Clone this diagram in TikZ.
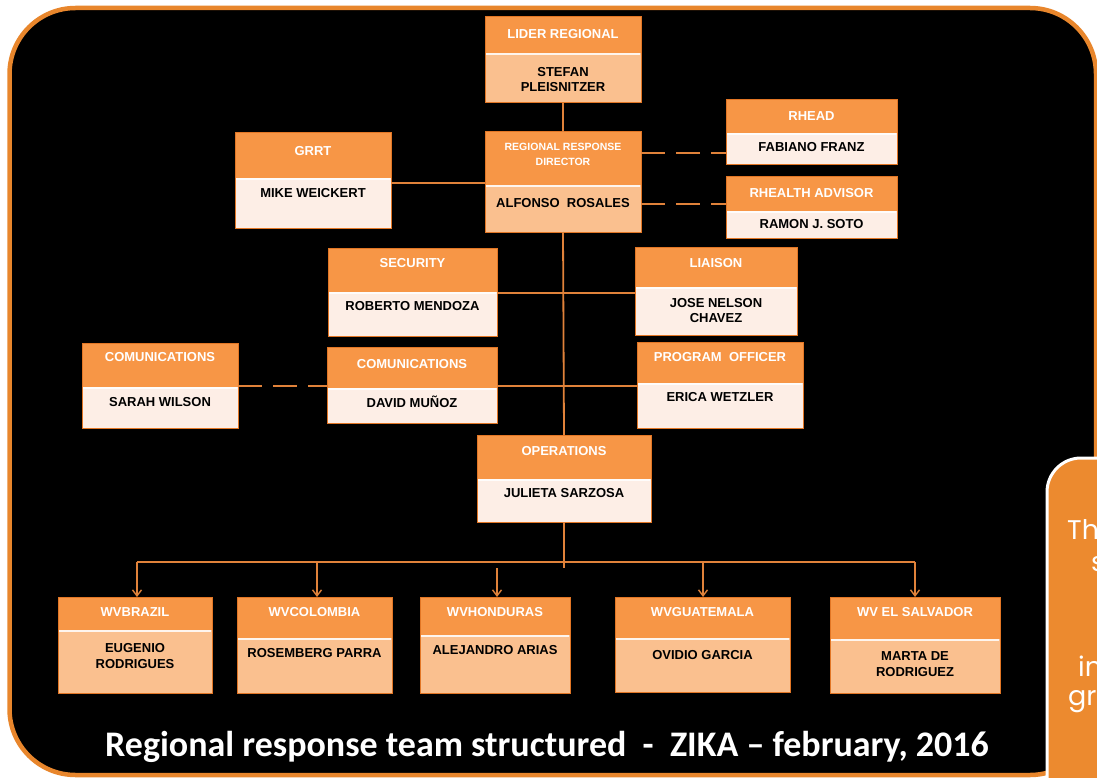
\documentclass[tikz,border=0pt]{standalone}
\usepackage{fontspec}
\setmainfont{Liberation Sans}
\newfontfamily\titlefont{Carlito}
\newfontfamily\sidefont{Poppins}
\usetikzlibrary{arrows.meta}
\definecolor{frameor}{HTML}{E8862C}
\definecolor{heador}{HTML}{F79646}
\definecolor{bodylt}{HTML}{FDEEE6}
\definecolor{bodyor}{HTML}{FAC08F}
\definecolor{edgeor}{HTML}{E27625}
\definecolor{connor}{HTML}{E0823A}
\definecolor{sideor}{HTML}{EC8A2F}
\tikzset{
  orgbox/.style={draw=edgeor, line width=1pt, rectangle, inner sep=0pt, outer sep=0pt, anchor=north west},
  htext/.style={text=white, font=\fontsize{13}{15}\selectfont\bfseries, inner sep=0pt, align=center},
  hsmall/.style={htext, font=\fontsize{10.5}{15}\selectfont\bfseries},
  btext/.style={text=black, font=\fontsize{13}{15.5}\selectfont\bfseries, inner sep=0pt, align=center},
  conn/.style={draw=connor, line width=1.8pt},
  dconn/.style={conn, dash pattern=on 24pt off 11pt},
  arr/.style={conn, -{Straight Barb[length=6pt,width=9pt,line width=1.4pt]}},
  titletext/.style={text=white, font=\titlefont\bfseries\fontsize{36}{40}\selectfont, inner sep=0pt},
  sidetext/.style={text=white, font=\sidefont\fontsize{27}{32}\selectfont, inner sep=0pt},
}
\newcommand{\orgbox}[7]{%
  \node[orgbox, fill=#7, minimum width={#4-#2}, minimum height={#5-#3}] (#1) at (#2,#3) {};
  \fill[heador] (#2,#3) rectangle (#4,#6);
  \draw[white, opacity=0.85, line width=1.4pt] (#2+1,#6+1) -- (#4-1,#6+1);
  \draw[edgeor, line width=1pt] (#1.north west) rectangle (#1.south east);
}
\begin{document}
\begin{tikzpicture}[x=1pt,y=-1pt]
\useasboundingbox (0,0) rectangle (1097,778);
\clip (0,0) rectangle (1097,778);
\fill[white] (0,0) rectangle (1097,778);
% main frame
\draw[frameor, line width=4.5pt, fill=black, rounded corners=66pt] (9.5,8) rectangle (1096,775);

% boxes
\orgbox{lider}{485}{17}{641}{103}{53}{bodyor}
\orgbox{dir}{485}{132}{641}{232}{185}{bodyor}
\orgbox{rhead}{726}{100}{897}{165}{133}{bodylt}
\orgbox{rhealth}{726}{177}{897}{238}{211}{bodylt}
\orgbox{grrt}{235}{133}{391}{228}{178}{bodylt}
\orgbox{sec}{328}{248}{497}{336}{292}{bodylt}
\orgbox{liaison}{635}{247}{797}{335}{287}{bodylt}
\orgbox{comL}{82}{343}{238}{428}{387}{bodylt}
\orgbox{comM}{327}{347}{497}{423}{388}{bodylt}
\orgbox{prog}{637}{342}{803}{428}{383}{bodylt}
\orgbox{ops}{477}{435}{651}{522}{479}{bodylt}
\orgbox{brazil}{58}{597}{212}{693}{630}{bodyor}
\orgbox{colombia}{237}{597}{392}{693}{638}{bodyor}
\orgbox{honduras}{420}{597}{570}{693}{635}{bodyor}
\orgbox{guatemala}{615}{597}{790}{692}{638}{bodyor}
\orgbox{salvador}{830}{597}{1000}{693}{639}{bodyor}

% connectors
\draw[conn] (lider.south) -- (dir.north);
\draw[conn] (dir.south) -- (ops.north);
\coordinate (spineend) at (564,568);
\draw[conn] (ops.south) -- (spineend);
\draw[conn] (grrt.east |- 0,183) -- (dir.west |- 0,183);
\draw[dconn] (dir.east |- 0,153) -- (rhead.west |- 0,153);
\draw[dconn] (dir.east |- 0,204) -- (rhealth.west |- 0,204);
\draw[conn] (sec.east |- 0,293) -- (liaison.west |- 0,293);
\draw[conn] (comM.east |- 0,386) -- (prog.west |- 0,386);
\draw[dconn] (comL.east |- 0,386) -- (comM.west |- 0,386);
\coordinate (busL) at (137,562);
\coordinate (busR) at (915,562);
\draw[conn] (busL) -- (busR);
\draw[arr] (busL) -- (busL |- brazil.north);
\draw[arr] (317,562) -- (317,597);
\coordinate (hondstart) at (497,568);
\draw[arr] (hondstart) -- (hondstart |- honduras.north);
\draw[arr] (703,562) -- (703,597);
\draw[arr] (busR) -- (busR |- salvador.north);

% texts
\node[htext] (lider-h) at (lider.north |- 0,34) {LIDER REGIONAL};
\node[btext] (lider-b) at (lider.north |- 0,79.5) {STEFAN\\PLEISNITZER};
\node[hsmall] (dir-h) at (dir.north |- 0,154.5) {REGIONAL RESPONSE\\DIRECTOR};
\node[btext] (dir-b) at (dir.north |- 0,203) {ALFONSO\ \ ROSALES};
\node[htext] (rhead-h) at (rhead.north |- 0,116) {RHEAD};
\node[btext] (rhead-b) at (rhead.north |- 0,147) {FABIANO FRANZ};
\node[htext] (rhealth-h) at (rhealth.north |- 0,193) {RHEALTH ADVISOR};
\node[btext] (rhealth-b) at (rhealth.north |- 0,224) {RAMON J. SOTO};
\node[htext] (grrt-h) at (grrt.north |- 0,151) {GRRT};
\node[btext] (grrt-b) at (grrt.north |- 0,193) {MIKE WEICKERT};
\node[htext] (sec-h) at (sec.north |- 0,263) {SECURITY};
\node[btext] (sec-b) at (sec.north |- 0,306) {ROBERTO MENDOZA};
\node[htext] (liaison-h) at (liaison.north |- 0,263) {LIAISON};
\node[btext] (liaison-b) at (liaison.north |- 0,310.5) {JOSE NELSON\\CHAVEZ};
\node[htext] (comL-h) at (comL.north |- 0,357) {COMUNICATIONS};
\node[btext] (comL-b) at (comL.north |- 0,402) {SARAH WILSON};
\node[htext] (comM-h) at (comM.north |- 0,364) {COMUNICATIONS};
\node[btext] (comM-b) at (comM.north |- 0,402) {DAVID MUÑOZ};
\node[htext] (prog-h) at (prog.north |- 0,357) {PROGRAM\ \ OFFICER};
\node[btext] (prog-b) at (prog.north |- 0,397) {ERICA WETZLER};
\node[htext] (ops-h) at (ops.north |- 0,451) {OPERATIONS};
\node[btext] (ops-b) at (ops.north |- 0,493) {JULIETA SARZOSA};
\node[htext] (brazil-h) at (brazil.north |- 0,612) {WVBRAZIL};
\node[btext] (brazil-b) at (brazil.north |- 0,656) {EUGENIO\\RODRIGUES};
\node[htext] (colombia-h) at (colombia.north |- 0,612) {WVCOLOMBIA};
\node[btext] (colombia-b) at (colombia.north |- 0,653) {ROSEMBERG PARRA};
\node[htext] (honduras-h) at (honduras.north |- 0,612) {WVHONDURAS};
\node[btext] (honduras-b) at (honduras.north |- 0,650) {ALEJANDRO ARIAS};
\node[htext] (guatemala-h) at (guatemala.north |- 0,612) {WVGUATEMALA};
\node[btext] (guatemala-b) at (guatemala.north |- 0,655) {OVIDIO GARCIA};
\node[htext] (salvador-h) at (salvador.north |- 0,612) {WV EL SALVADOR};
\node[btext] (salvador-b) at (salvador.north |- 0,664) {MARTA DE\\RODRIGUEZ};

% title
\node[titletext, anchor=base] (title) at (547,756) {Regional response team structured\ \ -\ \ ZIKA – february, 2016};

% side panel (its text runs past the picture's right edge, as in the reference)
\draw[white, line width=3pt, fill=sideor, rounded corners=34pt] (1047,458) rectangle (1150,840);
\node[sidetext, anchor=base west] (side1) at (1067,539) {Th};
\node[sidetext, anchor=base west] (side2) at (1091,571) {s};
\node[sidetext, anchor=base west] (side3) at (1078,676) {in};
\node[sidetext, anchor=base west] (side4) at (1068,705) {gr};
\end{tikzpicture}
\end{document}
